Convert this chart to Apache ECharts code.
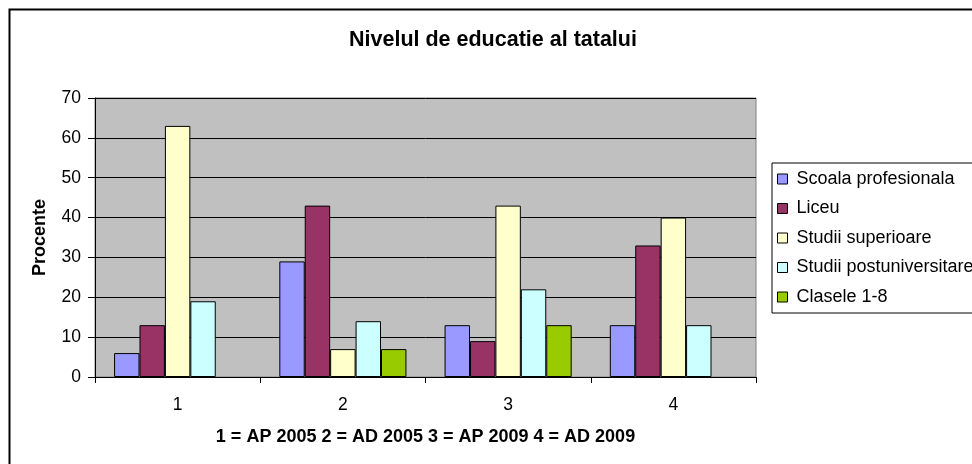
<!DOCTYPE html>
<html>
<head>
<meta charset="utf-8">
<script src="https://cdn.jsdelivr.net/npm/echarts@6/dist/echarts.min.js"></script>
<style>
html,body{margin:0;padding:0;background:#fff;}
#chart{width:972px;height:464px;}
</style>
</head>
<body>
<div id="chart"></div>
<script>
var categories = ['1', '2', '3', '4'];
var seriesNames = ['Scoala profesionala', 'Liceu', 'Studii superioare', 'Studii postuniversitare', 'Clasele 1-8'];
var scoalaProfesionala = [6, 29, 13, 13];
var liceu = [13, 43, 9, 33];
var studiiSuperioare = [63, 7, 43, 40];
var studiiPostuniversitare = [19, 14, 22, 13];
var clasele18 = ['-', 7, 13, '-'];
var yTicks = [0, 10, 20, 30, 40, 50, 60, 70];
var colors = ['#9999FF', '#993366', '#FFFFCC', '#CCFFFF', '#99CC00'];

var allData = [scoalaProfesionala, liceu, studiiSuperioare, studiiPostuniversitare, clasele18];
var font = 'Liberation Sans, Arial, sans-serif';

var chart = echarts.init(document.getElementById('chart'), null, {renderer: 'canvas'});
var option = {
  animation: false,
  backgroundColor: '#ffffff',
  title: {
    text: 'Nivelul de educatie al tatalui',
    left: 349,
    top: 29,
    padding: 0,
    textStyle: {fontFamily: font, fontSize: 21.5, fontWeight: 'bold', color: '#000'}
  },
  legend: {
    orient: 'vertical',
    left: 772,
    top: 163,
    padding: [6, 10, 6, 5],
    itemGap: 9.5,
    itemWidth: 10,
    itemHeight: 10,
    icon: 'rect',
    borderColor: '#000',
    borderWidth: 1,
    backgroundColor: '#fff',
    data: seriesNames,
    itemStyle: {borderColor: '#000', borderWidth: 1},
    textStyle: {fontFamily: font, fontSize: 18, color: '#000', lineHeight: 20, padding: [0, 0, 0, 4]}
  },
  grid: {
    left: 95,
    top: 98,
    width: 661,
    height: 279,
    show: true,
    backgroundColor: '#C0C0C0',
    borderColor: '#808080',
    borderWidth: 1,
    containLabel: false
  },
  xAxis: {
    type: 'category',
    data: categories,
    boundaryGap: true,
    name: '1 = AP 2005 2 = AD 2005 3 = AP 2009 4 = AD 2009',
    nameLocation: 'middle',
    nameGap: 51,
    nameTextStyle: {fontFamily: font, fontSize: 18, fontWeight: 'bold', color: '#000'},
    axisLine: {show: true, lineStyle: {color: '#000', width: 1}},
    axisTick: {show: true, length: 6, inside: false, lineStyle: {color: '#000'}},
    axisLabel: {fontFamily: font, fontSize: 17.5, color: '#000', margin: 19},
    splitLine: {show: false}
  },
  yAxis: {
    type: 'value',
    min: yTicks[0],
    max: yTicks[yTicks.length - 1],
    interval: 10,
    name: 'Procente',
    nameLocation: 'middle',
    nameGap: 46,
    nameRotate: 90,
    nameTextStyle: {fontFamily: font, fontSize: 18, fontWeight: 'bold', color: '#000'},
    axisLine: {show: true, lineStyle: {color: '#000', width: 1}},
    axisTick: {show: true, length: 7, inside: false, lineStyle: {color: '#000'}},
    axisLabel: {fontFamily: font, fontSize: 17.5, color: '#000', margin: 14},
    splitLine: {show: true, lineStyle: {color: '#000', width: 1}}
  },
  series: seriesNames.map(function (n, i) {
    return {
      name: n,
      type: 'bar',
      data: allData[i],
      barGap: '0%',
      barCategoryGap: '23.08%',
      itemStyle: {color: colors[i], borderColor: '#000', borderWidth: 1}
    };
  }),
  graphic: [{
    type: 'rect',
    silent: true,
    z: 100,
    shape: {x: 9.5, y: 9.5, width: 1000, height: 500},
    style: {fill: null, stroke: '#000', lineWidth: 2}
  }]
};
chart.setOption(option);
</script>
</body>
</html>
